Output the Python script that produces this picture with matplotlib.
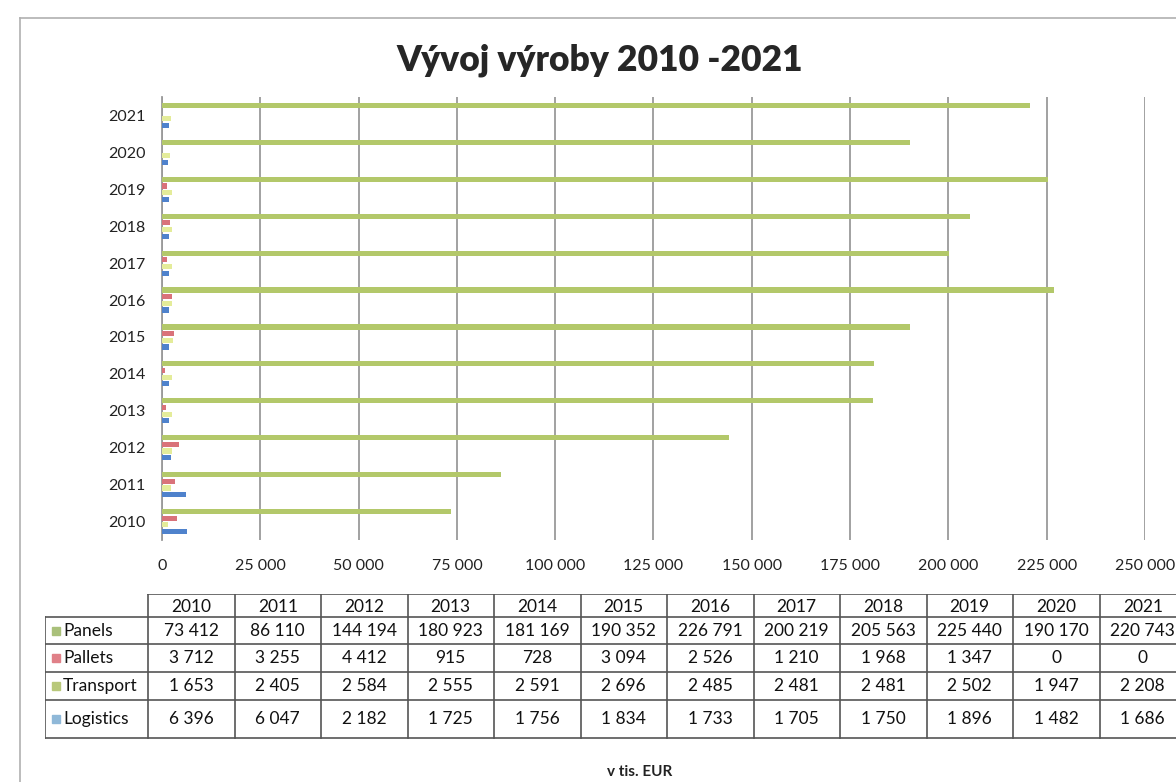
import matplotlib.pyplot as plt
import numpy as np

# data (v tis. EUR)
years = [2010, 2011, 2012, 2013, 2014, 2015, 2016, 2017, 2018, 2019, 2020, 2021]
series = ['Panels', 'Pallets', 'Transport', 'Logistics']
panels = [73412, 86110, 144194, 180923, 181169, 190352, 226791, 200219, 205563, 225440, 190170, 220743]
pallets = [3712, 3255, 4412, 915, 728, 3094, 2526, 1210, 1968, 1347, 0, 0]
transport = [1653, 2405, 2584, 2555, 2591, 2696, 2485, 2481, 2481, 2502, 1947, 2208]
logistics = [6396, 6047, 2182, 1725, 1756, 1834, 1733, 1705, 1750, 1896, 1482, 1686]
x_ticks = [0, 25000, 50000, 75000, 100000, 125000, 150000, 175000, 200000, 225000, 250000]

values = [panels, pallets, transport, logistics]
bar_colors = ['#b3c86a', '#d9727a', '#e4ec9a', '#4f82cc']
key_colors = ['#a9c07a', '#e08088', '#b8c87a', '#8fb8d8']

plt.rcParams['font.family'] = ['Lato', 'DejaVu Sans']

W, H = 1176, 782
fig = plt.figure(figsize=(W / 100, H / 100), dpi=100)

def fx(px):
    return px / W

def fy(py):
    return 1 - py / H

# outer frame of the chart object
fig.add_artist(plt.Line2D([fx(20), fx(1176)], [fy(18), fy(18)], color='#b0b0b0', lw=1.2))
fig.add_artist(plt.Line2D([fx(20), fx(20)], [fy(18), fy(782)], color='#b0b0b0', lw=1.2))

fig.text(fx(600), fy(60), 'Vývoj výroby 2010 -2021', ha='center', va='center',
         fontsize=25.5, fontweight='heavy', color='#262626')

# bar chart
ax = fig.add_axes([fx(162), fy(540), fx(1145) - fx(162), fy(97) - fy(540)])
y = np.arange(len(years))
offsets = [0.27, 0.09, -0.09, -0.27]
for vals, off, col, name in zip(values, offsets, bar_colors, series):
    ax.barh(y + off, vals, height=0.14, color=col, label=name, zorder=3)

ax.set_xlim(0, 250000)
ax.set_ylim(-0.5, len(years) - 0.5)
ax.set_xticks(x_ticks)
ax.set_xticklabels([f'{t:,}'.replace(',', ' ') for t in x_ticks])
ax.set_yticks(y)
ax.set_yticklabels([str(v) for v in years])
ax.tick_params(axis='both', length=0, labelsize=11.5, colors='#222222')
ax.tick_params(axis='x', pad=14)
ax.tick_params(axis='y', pad=12)
ax.grid(axis='x', color='#9a9a9a', lw=1.3, zorder=0)
for s in ['top', 'right', 'bottom']:
    ax.spines[s].set_visible(False)
ax.spines['left'].set_color('#9a9a9a')
ax.spines['left'].set_linewidth(1.3)

# data table under the chart
tx0, ty0, tx1, ty1 = 45, 594, 1176, 740
tax = fig.add_axes([fx(tx0), fy(ty1), fx(tx1) - fx(tx0), fy(ty0) - fy(ty1)])
tax.set_xlim(tx0, tx1)
tax.set_ylim(ty1, ty0)
tax.axis('off')

col0 = 148
cw = 86.5
rows_y = [594, 617, 644, 672, 700, 738]
line_kw = dict(color='#555555', lw=1.2, clip_on=True)
right = col0 + cw * len(years)
# horizontal lines
tax.plot([col0, right], [rows_y[0], rows_y[0]], **line_kw)
for ry in rows_y[1:]:
    tax.plot([tx0, right], [ry, ry], **line_kw)
# vertical lines
tax.plot([tx0, tx0], [rows_y[1], rows_y[-1]], **line_kw)
for k in range(len(years) + 1):
    xx = col0 + k * cw
    tax.plot([xx, xx], [rows_y[0], rows_y[-1]], **line_kw)

for k, yr in enumerate(years):
    tax.text(col0 + (k + 0.5) * cw, (rows_y[0] + rows_y[1]) / 2 + 1, str(yr),
             ha='center', va='center', fontsize=12.5, color='#111111')

for r, (name, vals, kc) in enumerate(zip(series, values, key_colors)):
    yc = (rows_y[r + 1] + rows_y[r + 2]) / 2
    tax.plot([56], [yc], marker='s', ms=6, color=kc, clip_on=False)
    tax.text(63, yc, name, ha='left', va='center', fontsize=12.5, color='#111111')
    for k, v in enumerate(vals):
        tax.text(col0 + (k + 0.5) * cw, yc, f'{v:,}'.replace(',', ' '),
                 ha='center', va='center', fontsize=12.5, color='#111111')

fig.text(fx(640), fy(772), 'v tis. EUR', ha='center', va='center',
         fontsize=11, fontweight='bold', color='#222222')

fig.savefig('out.png', dpi=100)
